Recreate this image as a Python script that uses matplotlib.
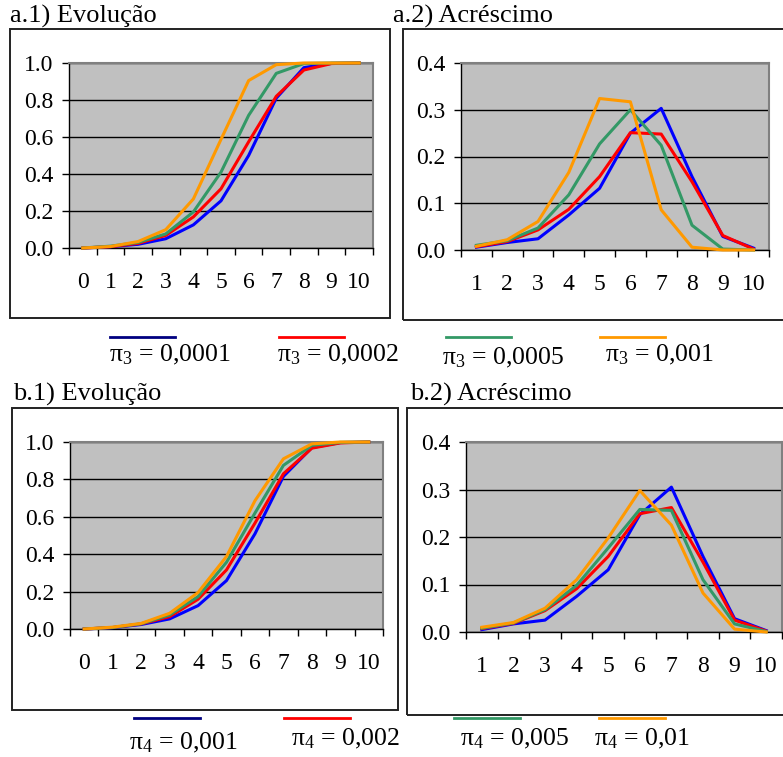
import matplotlib
matplotlib.use("Agg")
import matplotlib.pyplot as plt
import numpy as np
from matplotlib.patches import Rectangle
from matplotlib.lines import Line2D
from matplotlib.ticker import FormatStrFormatter

plt.rcParams['font.family'] = 'Liberation Serif'
plt.rcParams['mathtext.fontset'] = 'custom'
plt.rcParams['mathtext.rm'] = 'Liberation Serif'
plt.rcParams['mathtext.it'] = 'Liberation Serif:italic'

W, H = 783, 757

# categorias
x_evol = list(range(0, 11))
x_acr = list(range(1, 11))

# a) pi_3
a1_blue = [0, 0.007, 0.02, 0.05, 0.125, 0.255, 0.50, 0.81, 0.975, 0.998, 1.0]
a1_red = [0, 0.007, 0.025, 0.068, 0.168, 0.32, 0.574, 0.82, 0.962, 0.997, 1.0]
a1_green = [0, 0.01, 0.03, 0.076, 0.195, 0.41, 0.717, 0.944, 0.997, 1.0, 1.0]
a1_orange = [0, 0.008, 0.035, 0.099, 0.265, 0.587, 0.905, 0.991, 1.0, 1.0, 1.0]

a2_blue = [0.006, 0.016, 0.024, 0.075, 0.132, 0.25, 0.303, 0.157, 0.029, 0.004]
a2_red = [0.007, 0.018, 0.043, 0.087, 0.157, 0.251, 0.248, 0.146, 0.031, 0.002]
a2_green = [0.01, 0.02, 0.047, 0.118, 0.227, 0.30, 0.224, 0.053, 0.002, 0.0]
a2_orange = [0.008, 0.022, 0.061, 0.166, 0.324, 0.317, 0.086, 0.006, 0.0, 0.0]

# b) pi_4
b1_blue = [0, 0.007, 0.024, 0.054, 0.125, 0.259, 0.509, 0.816, 0.97, 0.997, 1.0]
b1_red = [0, 0.008, 0.027, 0.066, 0.159, 0.316, 0.566, 0.83, 0.967, 0.995, 1.0]
b1_green = [0, 0.008, 0.028, 0.075, 0.173, 0.357, 0.62, 0.875, 0.982, 0.998, 1.0]
b1_orange = [0, 0.01, 0.03, 0.084, 0.195, 0.388, 0.686, 0.91, 0.99, 1.0, 1.0]

b2_blue = [0.005, 0.017, 0.025, 0.075, 0.131, 0.247, 0.305, 0.159, 0.028, 0.003]
b2_red = [0.007, 0.018, 0.045, 0.091, 0.159, 0.249, 0.262, 0.147, 0.025, 0.002]
b2_green = [0.008, 0.019, 0.047, 0.098, 0.177, 0.258, 0.256, 0.11, 0.017, 0.001]
b2_orange = [0.01, 0.02, 0.05, 0.11, 0.198, 0.298, 0.225, 0.082, 0.006, 0.0]

labels_a = [r"$\mathrm{\pi_3}$ = 0,0001", r"$\mathrm{\pi_3}$ = 0,0002",
            r"$\mathrm{\pi_3}$ = 0,0005", r"$\mathrm{\pi_3}$ = 0,001"]
labels_b = [r"$\mathrm{\pi_4}$ = 0,001", r"$\mathrm{\pi_4}$ = 0,002",
            r"$\mathrm{\pi_4}$ = 0,005", r"$\mathrm{\pi_4}$ = 0,01"]

plot_colors = ['#0000FF', '#FF0000', '#339966', '#FF9900']
leg_colors = ['#000080', '#FF0000', '#339966', '#FF9900']

fig = plt.figure(figsize=(W / 100, H / 100), dpi=100)


def rect(x0, y0, x1, y1):
    # pixels (origem em cima) -> fracao da figura
    return [x0 / W, 1 - y1 / H, (x1 - x0) / W, (y1 - y0) / H]


def box(x0, y0, x1, y1):
    r = Rectangle((x0 / W, 1 - y1 / H), (x1 - x0) / W, (y1 - y0) / H,
                  transform=fig.transFigure, fill=False, lw=1.4,
                  edgecolor='#222222')
    fig.add_artist(r)


def panel(pos, x, series, ymax, ystep):
    ax = fig.add_axes(rect(*pos))
    ax.set_facecolor('#C0C0C0')
    for y, c in zip(series, plot_colors):
        ax.plot(x, y, color=c, lw=2.2, clip_on=False, zorder=3)
    ax.set_xlim(x[0] - 0.5, x[-1] + 0.5)
    ax.set_ylim(0, ymax)
    ax.set_yticks(np.arange(0, ymax + 1e-9, ystep))
    ax.yaxis.set_major_formatter(FormatStrFormatter('%.1f'))
    ax.yaxis.grid(True, color='black', lw=1)
    ax.set_axisbelow(True)
    ax.set_xticks(np.arange(x[0] - 0.5, x[-1] + 0.51, 1))
    ax.set_xticks(x, minor=True)
    ax.set_xticklabels([str(v) for v in x], minor=True)
    ax.tick_params(axis='x', which='major', length=5, width=1,
                   labelbottom=False)
    ax.tick_params(axis='x', which='minor', length=0, pad=17, labelsize=17)
    ax.tick_params(axis='y', length=5, width=1, pad=6, labelsize=17)
    for s in ['top', 'right']:
        ax.spines[s].set_color('#808080')
        ax.spines[s].set_linewidth(1.5)
    for s in ['left', 'bottom']:
        ax.spines[s].set_color('black')
        ax.spines[s].set_linewidth(1)
    return ax


# caixas
box(10, 29, 390, 318)
box(403, 29, 800, 320)
box(12, 408, 398, 710)
box(407, 408, 800, 715)

# titulos
fig.text(10 / W, 1 - 16 / H, "a.1) Evolução", fontsize=19, va='center', ha='left')
fig.text(393 / W, 1 - 16 / H, "a.2) Acréscimo", fontsize=19, va='center', ha='left')
fig.text(13 / W, 1 - 394 / H, "b.1) Evolução", fontsize=19, va='center', ha='left')
fig.text(410 / W, 1 - 394 / H, "b.2) Acréscimo", fontsize=19, va='center', ha='left')

panel((69, 63, 373, 248), x_evol, [a1_blue, a1_red, a1_green, a1_orange], 1.0, 0.2)
panel((461, 63, 769, 250), x_acr, [a2_blue, a2_red, a2_green, a2_orange], 0.4, 0.1)
panel((70, 442, 383, 629), x_evol, [b1_blue, b1_red, b1_green, b1_orange], 1.0, 0.2)
panel((466, 442, 782, 632), x_acr, [b2_blue, b2_red, b2_green, b2_orange], 0.4, 0.1)

# legendas
leg_a_lines = [(110, 175), (279, 344), (446, 511), (600, 665)]
leg_a_text = [(109, 355), (277, 355), (442, 358), (605, 355)]
leg_b_lines = [(134, 200), (284, 350), (454, 520), (599, 665)]
leg_b_text = [(129, 743), (291, 739), (460, 739), (594, 739)]

for (x0, x1), c in zip(leg_a_lines, leg_colors):
    fig.add_artist(Line2D([x0 / W, x1 / W], [1 - 337 / H] * 2, color=c, lw=2,
                          transform=fig.transFigure))
for (x0, x1), c in zip(leg_b_lines, leg_colors):
    fig.add_artist(Line2D([x0 / W, x1 / W], [1 - 718 / H] * 2, color=c, lw=2,
                          transform=fig.transFigure))
for (tx, ty), s in zip(leg_a_text, labels_a):
    fig.text(tx / W, 1 - ty / H, s, fontsize=18.5, va='center', ha='left')
for (tx, ty), s in zip(leg_b_text, labels_b):
    fig.text(tx / W, 1 - ty / H, s, fontsize=18.5, va='center', ha='left')

fig.savefig("out.png", dpi=100)
